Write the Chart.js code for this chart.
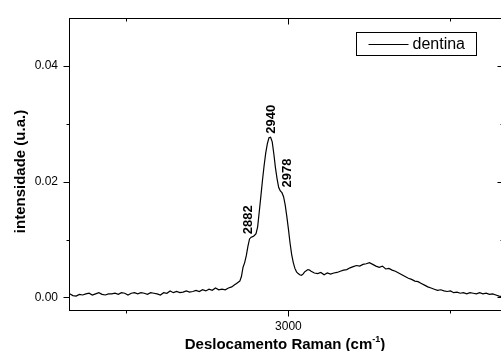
<!DOCTYPE html>
<html>
<head>
<meta charset="utf-8">
<script src="https://cdn.jsdelivr.net/npm/chart.js@4"></script>
<style>
  html, body { margin: 0; padding: 0; background: #fff; overflow: hidden; }
</style>
</head>
<body>
<canvas id="ramanChart" width="505" height="351"></canvas>
<script>
// Raman shift (cm-1) and intensity
const shift = [
  2325, 2335, 2345, 2355, 2365, 2375, 2385, 2395, 2405, 2415, 2425, 2435, 2445, 2455, 2465, 2475,
  2485, 2495, 2505, 2515, 2525, 2535, 2545, 2555, 2565, 2575, 2585, 2595, 2605, 2615, 2625, 2635,
  2645, 2655, 2665, 2675, 2685, 2695, 2705, 2715, 2725, 2735, 2745, 2755, 2765, 2775, 2785, 2795,
  2805, 2815, 2825, 2835,
  2840, 2845, 2850, 2855, 2860, 2865, 2870, 2875, 2880, 2885, 2890, 2895, 2900, 2905, 2910, 2915,
  2920, 2925, 2930, 2935, 2940, 2945, 2950, 2955, 2960, 2965, 2970, 2975, 2980, 2985, 2990, 2995,
  3000, 3005, 3010, 3015, 3020, 3025, 3030, 3035, 3040, 3045, 3050, 3055, 3060, 3065, 3070,
  3080, 3090, 3100, 3110, 3120, 3130, 3140, 3150, 3160, 3170, 3180, 3190, 3200, 3210, 3220, 3230,
  3240, 3250, 3260, 3270, 3280, 3290, 3300, 3310, 3320, 3330, 3340, 3350, 3360, 3370, 3380, 3390,
  3400, 3410, 3420, 3430, 3440, 3450, 3460, 3470, 3480, 3490, 3500, 3510, 3520, 3530, 3540, 3550,
  3560, 3570, 3580, 3590, 3600, 3610, 3620, 3630, 3640, 3650, 3660
];
const intensity = [
  0.0006, 0.0003, 0.0002, 0.0005, 0.0004, 0.0006, 0.0007, 0.0004, 0.0006, 0.0008, 0.0005, 0.0004, 0.0006, 0.0006, 0.0007, 0.0005,
  0.0008, 0.0007, 0.0004, 0.0007, 0.0008, 0.0006, 0.0008, 0.0007, 0.0005, 0.0008, 0.0007, 0.0006, 0.0004, 0.0008, 0.0007, 0.0011,
  0.0008, 0.0010, 0.0008, 0.0009, 0.0011, 0.0009, 0.0010, 0.0012, 0.0010, 0.0013, 0.0011, 0.0014, 0.0012, 0.0016, 0.0013, 0.0014,
  0.0013, 0.0016, 0.0018, 0.0022,
  0.0024, 0.0026, 0.0028, 0.0036, 0.0052, 0.0060, 0.0072, 0.0088, 0.0101, 0.0104, 0.0105, 0.0107, 0.0110, 0.0122, 0.0148, 0.0175,
  0.0203, 0.0228, 0.0250, 0.0266, 0.0276, 0.0277, 0.0269, 0.0248, 0.0224, 0.0205, 0.0190, 0.0184, 0.0181, 0.0174, 0.0160, 0.0140,
  0.0118, 0.0094, 0.0074, 0.0060, 0.0050, 0.0044, 0.0041, 0.0039, 0.0038, 0.0040, 0.0044, 0.0046, 0.0048, 0.0047, 0.0045,
  0.0042, 0.0041, 0.0043, 0.0039, 0.0042, 0.0040, 0.0042, 0.0043, 0.0045, 0.0047, 0.0048, 0.0051, 0.0053, 0.0055, 0.0054, 0.0057,
  0.0058, 0.0060, 0.0057, 0.0054, 0.0052, 0.0054, 0.0049, 0.0050, 0.0047, 0.0045, 0.0042, 0.0039, 0.0036, 0.0033, 0.0031, 0.0028,
  0.0027, 0.0024, 0.0021, 0.0018, 0.0016, 0.0014, 0.0012, 0.0013, 0.0011, 0.0010, 0.0011, 0.0008, 0.0009, 0.0007, 0.0008, 0.0006,
  0.0008, 0.0007, 0.0006, 0.0008, 0.0006, 0.0007, 0.0005, 0.0006, 0.0004, 0.0002, 0.0001
];
const seriesName = 'dentina';

// axis ticks
const xMajor = [3000];
const xMinor = [2500, 3500];
const yMajor = [0, 0.02, 0.04];
const yMinor = [0.01, 0.03];

// peak annotations: text, and the data point where the rotated text starts
const peakText = ['2882', '2940', '2978'];
const peakAtX = [2878, 2947, 2998];
const peakAtY = [0.0109, 0.0283, 0.0190];

const FONT = '"Liberation Sans", Arial, sans-serif';

// frame, tick marks, legend box, peak labels and axis titles
const decorations = {
    id: 'decorations',
    afterDraw(chart) {
        const ctx = chart.ctx;
        const a = chart.chartArea;
        const x = chart.scales.x;
        const y = chart.scales.y;
        const L = Math.round(a.left) + 0.5, R = Math.round(a.right) + 0.5;
        const T = Math.round(a.top) + 0.5, B = Math.round(a.bottom) + 0.5;

        ctx.save();
        ctx.strokeStyle = '#000';
        ctx.lineWidth = 1;
        ctx.strokeRect(L, T, R - L, B - T);

        ctx.beginPath();
        yMajor.concat(yMinor).forEach(v => {
            const len = yMajor.includes(v) ? 6 : 3;
            const py = Math.round(y.getPixelForValue(v)) + 0.5;
            ctx.moveTo(L - len, py); ctx.lineTo(L, py);
            ctx.moveTo(R - len, py); ctx.lineTo(R, py);
        });
        xMajor.concat(xMinor).forEach(v => {
            const len = xMajor.includes(v) ? 6 : 3;
            const px = Math.round(x.getPixelForValue(v)) + 0.5;
            ctx.moveTo(px, B); ctx.lineTo(px, B + len);
            ctx.moveTo(px, T); ctx.lineTo(px, T + len);
        });
        ctx.stroke();

        // legend
        const bx = Math.round(a.right) - 146.5, by = Math.round(a.top) + 14.5;
        ctx.strokeRect(bx, by, 120, 23);
        ctx.beginPath();
        ctx.moveTo(bx + 12, by + 12);
        ctx.lineTo(bx + 52, by + 12);
        ctx.lineWidth = 1.2;
        ctx.stroke();
        ctx.fillStyle = '#000';
        ctx.font = '16px ' + FONT;
        ctx.textAlign = 'left';
        ctx.textBaseline = 'middle';
        ctx.fillText(seriesName, bx + 56, by + 12);

        // peak labels
        ctx.font = 'bold 13px ' + FONT;
        peakText.forEach((t, i) => {
            ctx.save();
            ctx.translate(x.getPixelForValue(peakAtX[i]), y.getPixelForValue(peakAtY[i]));
            ctx.rotate(-Math.PI / 2);
            ctx.textAlign = 'left';
            ctx.textBaseline = 'middle';
            ctx.fillText(t, 0, 0);
            ctx.restore();
        });

        // x title with superscript
        const main = 'Deslocamento Raman (cm', sup = '-1', close = ')';
        ctx.textBaseline = 'alphabetic';
        ctx.font = 'bold 15px ' + FONT;
        const wMain = ctx.measureText(main).width;
        const wClose = ctx.measureText(close).width;
        ctx.font = 'bold 9px ' + FONT;
        const wSup = ctx.measureText(sup).width;
        let tx = 285 - (wMain + wSup + wClose) / 2;
        const base = 349;
        ctx.font = 'bold 15px ' + FONT;
        ctx.fillText(main, tx, base);
        tx += wMain;
        ctx.font = 'bold 9px ' + FONT;
        ctx.fillText(sup, tx, base - 7);
        tx += wSup;
        ctx.font = 'bold 15px ' + FONT;
        ctx.fillText(close, tx, base);

        // y title
        ctx.save();
        ctx.translate(25, 171.5);
        ctx.rotate(-Math.PI / 2);
        ctx.textAlign = 'center';
        ctx.fillText('intensidade (u.a.)', 0, 0);
        ctx.restore();

        ctx.restore();
    }
};

const ctx = document.getElementById('ramanChart').getContext('2d');
const ramanChart = new Chart(ctx, {
    type: 'line',
    data: {
        datasets: [{
            label: seriesName,
            data: shift.map((s, i) => ({ x: s, y: intensity[i] })),
            borderColor: '#000',
            borderWidth: 1.2,
            pointRadius: 0,
            tension: 0,
            fill: false
        }]
    },
    options: {
        responsive: false,
        animation: false,
        devicePixelRatio: 1,
        layout: { padding: { top: 15, right: 2, left: 0, bottom: 0 } },
        scales: {
            x: {
                type: 'linear',
                min: 2323,
                max: 3662,
                afterBuildTicks: s => { s.ticks = xMajor.map(v => ({ value: v })); },
                afterFit: s => { s.height = 41; },
                grid: { display: false, drawTicks: false },
                border: { display: false },
                ticks: {
                    color: '#000',
                    padding: 9,
                    maxRotation: 0,
                    font: { family: FONT, size: 12 },
                    callback: v => String(v)
                }
            },
            y: {
                min: -0.0022,
                max: 0.0483,
                afterBuildTicks: s => { s.ticks = yMajor.map(v => ({ value: v })); },
                afterFit: s => { s.width = 69; },
                grid: { display: false, drawTicks: false },
                border: { display: false },
                ticks: {
                    color: '#000',
                    padding: 11,
                    font: { family: FONT, size: 12 },
                    callback: v => v.toFixed(2)
                }
            }
        },
        plugins: {
            legend: { display: false },
            tooltip: { enabled: false }
        }
    },
    plugins: [decorations]
});
</script>
</body>
</html>
